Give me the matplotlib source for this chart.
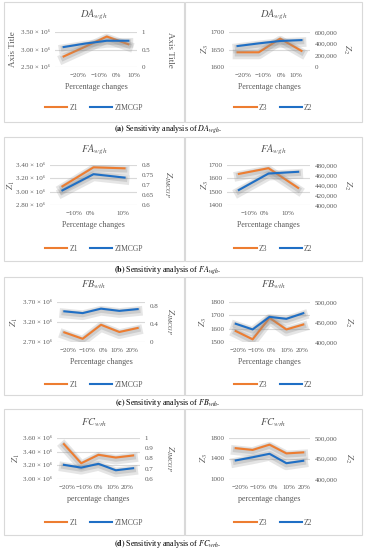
import matplotlib
matplotlib.use("Agg")
import matplotlib.pyplot as plt
import matplotlib.patheffects as pe
from matplotlib.patches import Rectangle
from matplotlib.lines import Line2D
from matplotlib.ticker import FixedLocator, FuncFormatter

plt.rcParams['font.family'] = ['Liberation Serif', 'DejaVu Serif']
plt.rcParams['mathtext.fontset'] = 'stix'

W, H = 365, 550
ORANGE = '#ED7D31'
BLUE = '#1F6FC5'
GRID = '#D9D9D9'
TXT = '#595959'

# ---- data ----
labels4 = ['−20%', '−10%', '0%', '10%']
labels3 = ['−10%', '0%', '10%']
labels5 = ['−20%', '−10%', '0%', '10%', '20%']

da_z1 = [2.80e6, 3.08e6, 3.37e6, 3.15e6]
da_zimcgp = [0.57, 0.67, 0.75, 0.75]
da_z3 = [1642, 1642, 1681, 1646]
da_z2 = [359000, 405000, 446000, 461000]

fa_z1 = [3.08e6, 3.365e6, 3.35e6]
fa_zimcgp = [0.673, 0.754, 0.737]
fa_z3 = [1633, 1676, 1528]
fa_z2 = [430000, 462900, 466400]

fb_z1 = [2.94e6, 2.78e6, 3.13e6, 2.95e6, 3.05e6]
fb_zimcgp = [0.69, 0.65, 0.75, 0.70, 0.74]
fb_z3 = [1582, 1520, 1681, 1594, 1631]
fb_z2 = [445500, 431400, 462800, 457900, 471900]

fc_z1 = [3.51e6, 3.23e6, 3.354e6, 3.314e6, 3.344e6]
fc_zimcgp = [0.738, 0.711, 0.748, 0.685, 0.705]
fc_z3 = [1601, 1567, 1670, 1499, 1519]
fc_z2 = [445300, 453000, 461500, 438500, 444400]


def fmt_e6(v, pos):
    return f"{v/1e6:.2f} × 10⁶"


def fmt_g(v, pos):
    return f"{v:g}"


def fmt_comma(v, pos):
    return f"{v:,.0f}"


fig = plt.figure(figsize=(W / 100, H / 100), dpi=100)


def panel(box, area, title, title_y, legend_y, xlabel, xlab, xlab_pos,
          y1, y2, ticks1, ticks2, lim1, lim2, f1, f2,
          name1, name2, ylab1, ylab2, lpx1, lpx2):
    bx0, by0, bx1, by1 = box
    fig.patches.append(Rectangle((bx0 / W, 1 - by1 / H), (bx1 - bx0) / W,
                                 (by1 - by0) / H, transform=fig.transFigure,
                                 fill=False, ec=GRID, lw=0.8))
    fig.text((bx0 + bx1) / 2 / W, 1 - title_y / H, title, ha='center',
             va='center', fontsize=7.5, color=TXT)

    ax0, ay0, ax1, ay1 = area
    ax = fig.add_axes([ax0 / W, 1 - ay1 / H, (ax1 - ax0) / W, (ay1 - ay0) / H])
    ax2 = ax.twinx()
    n = len(y1)
    x = list(range(n))
    shadow = [pe.SimpleLineShadow(offset=(0, -1.5), shadow_color='#8C8C8C',
                                  alpha=0.22, linewidth=7),
              pe.SimpleLineShadow(offset=(0, -1), shadow_color='#8C8C8C',
                                  alpha=0.28, linewidth=4),
              pe.Normal()]
    ax.plot(x, y1, color=ORANGE, lw=1.5, path_effects=shadow, zorder=3)
    ax2.plot(x, y2, color=BLUE, lw=1.5, path_effects=shadow, zorder=3)

    ax.set_xlim(-0.4, n - 0.6)
    ax.set_ylim(*lim1)
    ax2.set_ylim(*lim2)
    ax.yaxis.set_major_locator(FixedLocator(ticks1))
    ax2.yaxis.set_major_locator(FixedLocator(ticks2))
    ax.yaxis.set_major_formatter(FuncFormatter(f1))
    ax2.yaxis.set_major_formatter(FuncFormatter(f2))
    ax.set_xticks(xlab_pos)
    ax.set_xticklabels(xlab)
    ax.grid(axis='y', color=GRID, lw=0.8)
    ax.set_axisbelow(True)
    for a in (ax, ax2):
        for s in a.spines.values():
            s.set_visible(False)
        a.tick_params(length=0, labelsize=5.0, labelcolor=TXT)
    ax.tick_params(axis='x', pad=4.5)
    ax.tick_params(axis='y', pad=3.5)
    ax2.tick_params(axis='y', pad=3.5)

    ax.set_xlabel(xlabel, fontsize=5.8, color=TXT, labelpad=3.5)
    ax.set_ylabel(ylab1, fontsize=6.5, color=TXT)
    ax2.set_ylabel(ylab2, fontsize=6.5, color=TXT, rotation=270)
    # label positions given in figure pixels, converted to axes fractions
    ax.yaxis.set_label_coords((lpx1 - ax0) / (ax1 - ax0), 0.5)
    ax2.yaxis.set_label_coords((lpx2 - ax0) / (ax1 - ax0), 0.5)
    ax.yaxis.label.set_va('center')
    ax2.yaxis.label.set_va('center')

    handles = [Line2D([], [], color=ORANGE, lw=1.5),
               Line2D([], [], color=BLUE, lw=1.5)]
    fig.legend(handles, [name1, name2], loc='center',
               bbox_to_anchor=((bx0 + bx1) / 2 / W, 1 - legend_y / H),
               ncol=2, frameon=False, fontsize=5.5, handlelength=2.9,
               handletextpad=0.3, columnspacing=1.6, labelcolor=TXT)


rows = [
    dict(tops=(2, 122), area_y=(32, 67), title_y=15, legend_y=108,
         cap_y=129, caption=r"$\bf{(a)}$ Sensitivity analysis of $DA_{wgh}$."),
    dict(tops=(137, 261), area_y=(165, 205), title_y=150, legend_y=249,
         cap_y=270, caption=r"$\bf{(b)}$ Sensitivity analysis of $FA_{wgh}$."),
    dict(tops=(277, 395), area_y=(302, 342), title_y=285, legend_y=385,
         cap_y=403, caption=r"$\bf{(c)}$ Sensitivity analysis of $FB_{wth}$."),
    dict(tops=(409, 535), area_y=(438, 479), title_y=423, legend_y=523,
         cap_y=544, caption=r"$\bf{(d)}$ Sensitivity analysis of $FC_{wrh}$."),
]

# row a
r = rows[0]
panel((4, r['tops'][0], 184, r['tops'][1]), (55, r['area_y'][0], 137, r['area_y'][1]),
      r'$DA_{wgh}$', r['title_y'], r['legend_y'], 'Percentage changes',
      labels4, [0.66, 1.64, 2.44, 3.24],
      da_z1, da_zimcgp, [2.5e6, 3.0e6, 3.5e6], [0, 0.5, 1],
      (2.5e6, 3.5e6), (0, 1), fmt_e6, fmt_g, 'Z1', 'ZIMCGP',
      'Axis Title', 'Axis Title', 13, 170)
panel((185, r['tops'][0], 362, r['tops'][1]), (229, r['area_y'][0], 310, r['area_y'][1]),
      r'$DA_{wgh}$', r['title_y'], r['legend_y'], 'Percentage changes',
      labels4, [0.24, 1.22, 2.06, 2.76],
      da_z3, da_z2, [1600, 1650, 1700], [0, 200000, 400000, 600000],
      (1600, 1700), (0, 600000), fmt_g, fmt_comma, 'Z3', 'Z2',
      r'$Z_3$', r'$Z_2$', 205, 347)

# row b
r = rows[1]
panel((4, r['tops'][0], 184, r['tops'][1]), (50, r['area_y'][0], 137, r['area_y'][1]),
      r'$FA_{wgh}$', r['title_y'], r['legend_y'], 'Percentage changes',
      labels3, [0.38, 0.89, 1.95],
      fa_z1, fa_zimcgp, [2.8e6, 3.0e6, 3.2e6, 3.4e6],
      [0.6, 0.65, 0.7, 0.75, 0.8], (2.8e6, 3.4e6), (0.6, 0.8), fmt_e6, fmt_g,
      'Z1', 'ZIMCGP', r'$Z_1$', r'$Z_{IMCGP}$', 11, 168)
panel((185, r['tops'][0], 362, r['tops'][1]), (227, r['area_y'][0], 310, r['area_y'][1]),
      r'$FA_{wgh}$', r['title_y'], r['legend_y'], 'Percentage changes',
      labels3, [0.33, 0.86, 1.67],
      fa_z3, fa_z2, [1400, 1500, 1600, 1700],
      [400000, 420000, 440000, 460000, 480000], (1400, 1700), (400000, 480000),
      fmt_g, fmt_comma, 'Z3', 'Z2', r'$Z_3$', r'$Z_2$', 205, 348)

# row c
r = rows[2]
panel((4, r['tops'][0], 184, r['tops'][1]), (57, r['area_y'][0], 145, r['area_y'][1]),
      r'$FB_{wth}$', r['title_y'], r['legend_y'], 'Percentage changes',
      labels5, [0.19, 1.25, 2.14, 2.88, 3.68],
      fb_z1, fb_zimcgp, [2.7e6, 3.2e6, 3.7e6], [0, 0.4, 0.8],
      (2.7e6, 3.7e6), (0, 0.9), fmt_e6, fmt_g, 'Z1', 'ZIMCGP',
      r'$Z_1$', r'$Z_{IMCGP}$', 14, 170)
panel((185, r['tops'][0], 362, r['tops'][1]), (229, r['area_y'][0], 310, r['area_y'][1]),
      r'$FB_{wth}$', r['title_y'], r['legend_y'], 'Percentage changes',
      labels5, [0.12, 1.22, 2.12, 3.02, 3.92],
      fb_z3, fb_z2, [1500, 1600, 1700, 1800],
      [400000, 450000, 500000], (1500, 1800), (400000, 500000),
      fmt_g, fmt_comma, 'Z3', 'Z2', r'$Z_3$', r'$Z_2$', 203, 349)

# row d
r = rows[3]
panel((4, r['tops'][0], 184, r['tops'][1]), (57, r['area_y'][0], 140, r['area_y'][1]),
      r'$FC_{wrh}$', r['title_y'], r['legend_y'], 'percentage changes',
      labels5, [0.19, 1.18, 2.0, 2.82, 3.66],
      fc_z1, fc_zimcgp, [3.0e6, 3.2e6, 3.4e6, 3.6e6],
      [0.6, 0.7, 0.8, 0.9, 1], (3.0e6, 3.6e6), (0.6, 1.0), fmt_e6, fmt_g,
      'Z1', 'ZIMCGP', r'$Z_1$', r'$Z_{IMCGP}$', 16, 170)
panel((185, r['tops'][0], 362, r['tops'][1]), (229, r['area_y'][0], 310, r['area_y'][1]),
      r'$FC_{wrh}$', r['title_y'], r['legend_y'], 'percentage changes',
      labels5, [0.25, 1.3, 2.25, 3.15, 4.05],
      fc_z3, fc_z2, [1000, 1400, 1800],
      [400000, 450000, 500000], (1000, 1800), (400000, 500000),
      fmt_g, fmt_comma, 'Z3', 'Z2', r'$Z_3$', r'$Z_2$', 204, 349)

for r in rows:
    fig.text(168 / W, 1 - r['cap_y'] / H, r['caption'], ha='center',
             va='center', fontsize=5.8, color='black')

fig.savefig('out.png', dpi=100)
